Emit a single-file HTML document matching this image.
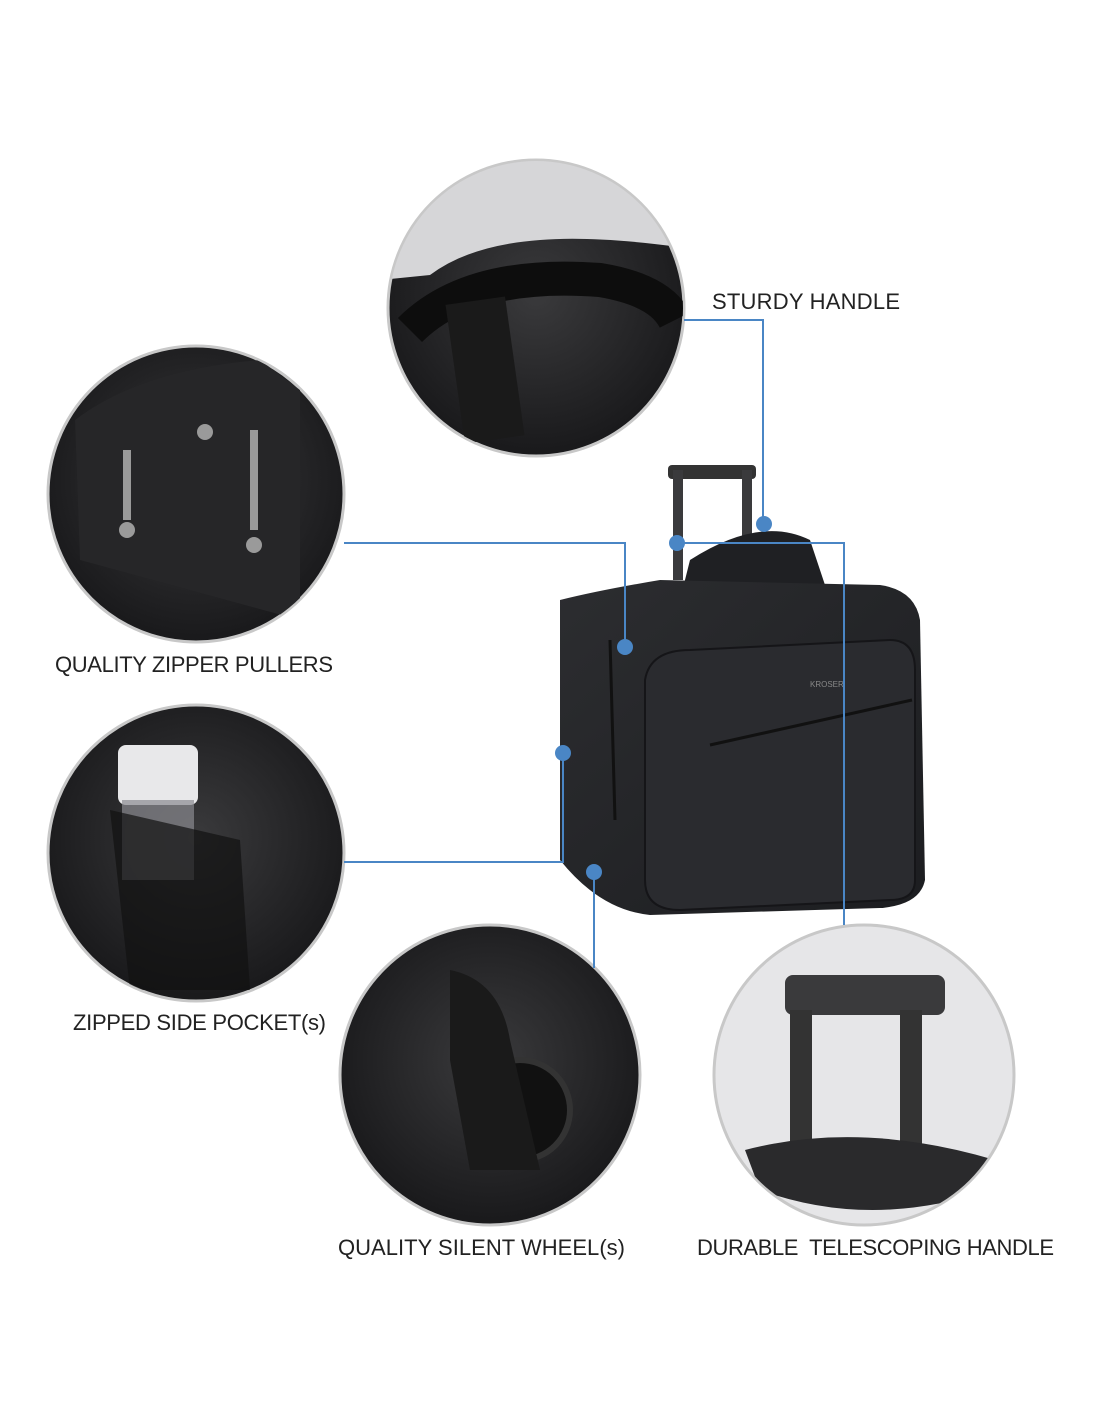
<!DOCTYPE html>
<html><head><meta charset="utf-8"><style>
body{margin:0;background:#fff;}
svg{display:block}
text{font-family:"Liberation Sans",sans-serif;font-size:22px;fill:#222;}
</style></head><body>
<svg width="1100" height="1422" viewBox="0 0 1100 1422">
<defs>
<radialGradient id="g1" cx="50%" cy="45%" r="60%"><stop offset="0" stop-color="#3a3a3c"/><stop offset="1" stop-color="#161618"/></radialGradient>
<linearGradient id="bag" x1="0" y1="0" x2="1" y2="1"><stop offset="0" stop-color="#2c2d30"/><stop offset="1" stop-color="#1c1d20"/></linearGradient>
<clipPath id="c1"><circle cx="536" cy="308" r="147"/></clipPath>
<clipPath id="c2"><circle cx="196" cy="494" r="147"/></clipPath>
<clipPath id="c3"><circle cx="196" cy="853" r="147"/></clipPath>
<clipPath id="c4"><circle cx="490" cy="1075" r="149"/></clipPath>
<clipPath id="c5"><circle cx="864" cy="1075" r="149"/></clipPath>
</defs>
<g stroke="#c8c8c8" stroke-width="3">
<circle cx="536" cy="308" r="148" fill="url(#g1)"/>
<circle cx="196" cy="494" r="148" fill="url(#g1)"/>
<circle cx="196" cy="853" r="148" fill="url(#g1)"/>
<circle cx="490" cy="1075" r="150" fill="url(#g1)"/>
<circle cx="864" cy="1075" r="150" fill="#e6e6e8"/>
</g>
<g clip-path="url(#c1)">
<path d="M380 150 L700 150 L700 250 Q600 235 540 240 Q470 245 430 275 L380 280Z" fill="#d6d6d8"/>
<path d="M410 330 Q470 270 600 280 Q660 290 675 320" stroke="#0d0d0d" stroke-width="34" fill="none"/>
<rect x="455" y="300" width="60" height="140" fill="#1a1a1a" transform="rotate(-8 485 370)"/>
</g>
<g clip-path="url(#c2)">
<path d="M75 420 Q140 370 260 360 L300 390 L300 620 L80 560Z" fill="#262628"/>
<g fill="#9a9a9a"><rect x="123" y="450" width="8" height="70"/><rect x="250" y="430" width="8" height="100"/><circle cx="127" cy="530" r="8"/><circle cx="254" cy="545" r="8"/><circle cx="205" cy="432" r="8"/></g>
</g>
<g clip-path="url(#c3)">
<rect x="118" y="745" width="80" height="60" rx="8" fill="#e8e8ea"/>
<rect x="122" y="800" width="72" height="80" fill="#8a8a90" opacity=".7"/>
<path d="M110 810 L240 840 L250 990 L130 990Z" fill="#111" opacity=".7"/>
</g>
<g clip-path="url(#c4)">
<circle cx="520" cy="1110" r="50" fill="#111" stroke="#333" stroke-width="6"/>
<path d="M450 970 Q500 980 510 1040 L540 1170 L470 1170 L450 1060Z" fill="#1a1a1a"/>
</g>
<g clip-path="url(#c5)">
<rect x="785" y="975" width="160" height="40" rx="8" fill="#3a3a3c"/>
<rect x="790" y="1010" width="22" height="150" fill="#333"/>
<rect x="900" y="1010" width="22" height="150" fill="#333"/>
<path d="M745 1150 Q860 1120 995 1160 L990 1190 Q870 1230 760 1190Z" fill="#2a2a2c"/>
</g>
<rect x="668" y="465" width="88" height="14" rx="4" fill="#333"/>
<rect x="673" y="470" width="10" height="110" fill="#3a3a3c"/>
<rect x="742" y="470" width="10" height="110" fill="#3a3a3c"/>
<path d="M690 560 Q760 515 810 540 L830 600 L680 600Z" fill="#1f2023"/>
<path d="M560 600 Q600 590 660 580 L880 585 Q915 590 920 620 L925 880 Q920 905 880 908 L650 915 Q600 910 560 860 Z" fill="url(#bag)"/>
<path d="M645 680 Q650 650 690 650 L890 640 Q915 640 915 670 L915 880 Q915 900 890 900 L680 910 Q645 910 645 880Z" fill="#2a2b2f" stroke="#151518" stroke-width="2"/>
<path d="M610 640 L615 820" stroke="#111" stroke-width="3"/>
<path d="M710 745 L912 700" stroke="#111" stroke-width="3"/>
<text x="810" y="687" style="font-size:8px;fill:#888">KROSER</text>
<g stroke="#4a86c5" stroke-width="2" fill="none">
<polyline points="684,320 763,320 763,523"/>
<polyline points="344,543 625,543 625,646"/>
<polyline points="344,862 563,862 563,753"/>
<polyline points="677,543 844,543 844,925"/>
<polyline points="594,872 594,968"/>
</g>
<g fill="#4a86c5">
<circle cx="764" cy="524" r="8"/><circle cx="677" cy="543" r="8"/><circle cx="625" cy="647" r="8"/><circle cx="563" cy="753" r="8"/><circle cx="594" cy="872" r="8"/>
</g>
<text x="712" y="309" textLength="188">STURDY HANDLE</text>
<text x="55" y="672" textLength="278">QUALITY ZIPPER PULLERS</text>
<text x="73" y="1030" textLength="253">ZIPPED SIDE POCKET(s)</text>
<text x="338" y="1255" textLength="287">QUALITY SILENT WHEEL(s)</text>
<text x="697" y="1255" textLength="357">DURABLE&#160; TELESCOPING HANDLE</text>
</svg>
</body></html>
